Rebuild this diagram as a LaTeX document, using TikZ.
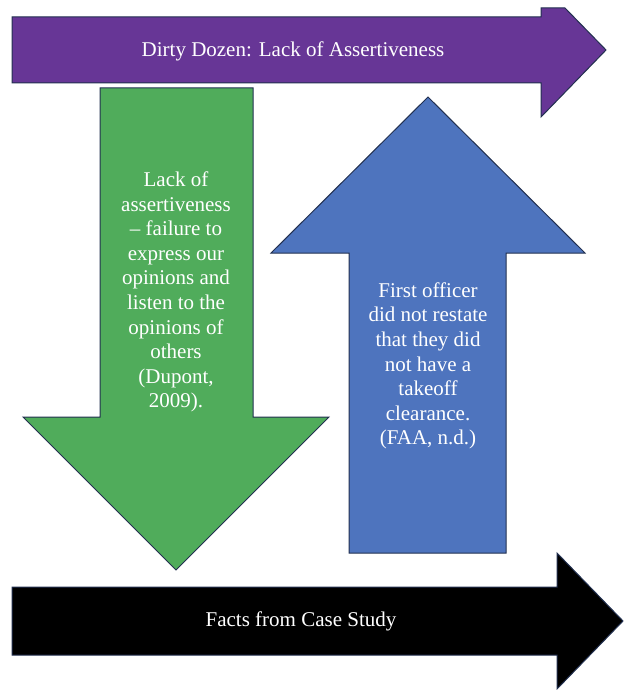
\documentclass[tikz,border=0pt]{standalone}
\usepackage{fontspec}
\setmainfont{Liberation Serif}
\definecolor{dozen-purple}{RGB}{103,54,150}
\definecolor{fact-green}{RGB}{80,172,91}
\definecolor{fact-blue}{RGB}{78,116,190}
\definecolor{arrow-edge}{RGB}{34,48,80}
\begin{document}
\begin{tikzpicture}
        [x=1pt,y=-1pt,
        every node/.style={text=white,align=center,inner sep=0pt,font=\fontsize{21}{24.6}\selectfont},
        block-arrow/.style={draw=arrow-edge,line width=1pt,line join=miter},
        purple-arrow/.style={block-arrow,fill=dozen-purple},
        green-arrow/.style={block-arrow,fill=fact-green},
        blue-arrow/.style={block-arrow,fill=fact-blue},
        black-arrow/.style={block-arrow,fill=black}
        ]
        \useasboundingbox (0,0) rectangle (624,690);
        \draw[purple-arrow] (12,17) -- (541,17) -- (541,8) -- (565,8) -- (606,50) -- (541,117) -- (541,83) -- (12,83) -- cycle;
        \draw[green-arrow] (100,88) -- (253,88) -- (253,417) -- (329,417) -- (176,570) -- (23,417) -- (100,417) -- cycle;
        \draw[blue-arrow] (349,553) -- (349,253) -- (271,253) -- (428,97) -- (585,253) -- (506,253) -- (506,553) -- cycle;
        \draw[black-arrow] (12,587) -- (557,587) -- (557,553) -- (623,621) -- (557,689) -- (557,655) -- (12,655) -- cycle;
        \node (dozen-label) at (293,51) {Dirty Dozen: Lack of Assertiveness};
        \node (green-label) at (176,292) {Lack of\\assertiveness\\-- failure to\\express our\\opinions and\\listen to the\\opinions of\\others\\(Dupont,\\2009).};
        \node (blue-label) at (428,366) {First officer\\did not restate\\that they did\\not have a\\takeoff\\clearance.\\(FAA, n.d.)};
        \node (case-label) at (301,621) {Facts from Case Study};
    \end{tikzpicture}
\end{document}
